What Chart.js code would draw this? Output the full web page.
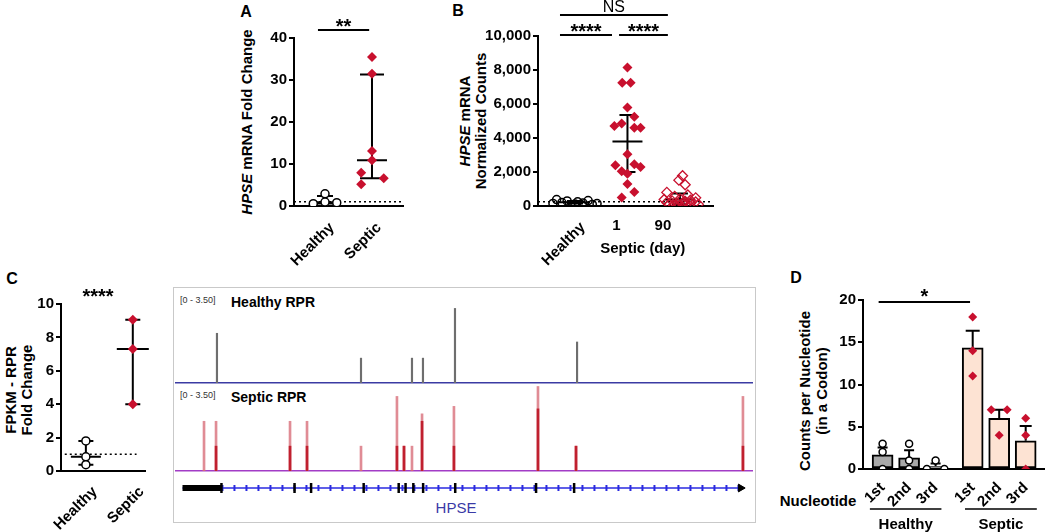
<!DOCTYPE html>
<html>
<head>
<meta charset="utf-8">
<title>HPSE expression</title>
<script src="https://cdn.jsdelivr.net/npm/chart.js@4.4.1/dist/chart.umd.min.js"></script>
<style>
  html, body { margin: 0; padding: 0; background: #fff; }
  body { position: relative; width: 1050px; height: 532px; overflow: hidden;
         font-family: 'Liberation Sans', Arial, sans-serif; color: #000; }
  canvas { position: absolute; }
  .lbl { position: absolute; white-space: nowrap; font-weight: bold; transform: translate(-50%, -50%); }
  .panel { font-size: 16px; }
  .ytitle { font-size: 15px; line-height: 16px; text-align: center;
            transform: translate(-50%, -50%) rotate(-90deg); }
  .box { position: absolute; left: 173px; top: 287px; width: 583px; height: 236px;
         box-sizing: border-box; border: 1.5px solid #c9c9c9; }
  .range { position: absolute; font-size: 9px; color: #333; transform: translateY(-50%); white-space: nowrap; }
  .track { position: absolute; font-size: 14px; font-weight: bold; transform: translateY(-50%); white-space: nowrap; }
</style>
</head>
<body>
<div class="lbl panel" style="left:246px;top:12px">A</div>
<div class="lbl panel" style="left:458px;top:11px">B</div>
<div class="lbl panel" style="left:12px;top:279px">C</div>
<div class="lbl panel" style="left:796px;top:278px">D</div>

<div class="lbl ytitle" style="left:247px;top:122px"><i>HPSE</i> mRNA Fold Change</div>
<div class="lbl ytitle" style="left:473px;top:121px"><i>HPSE</i> mRNA<br>Normalized Counts</div>
<div class="lbl ytitle" style="left:19px;top:390px">FPKM - RPR<br>Fold Change</div>
<div class="lbl ytitle" style="left:813px;top:391px;line-height:17px">Counts per Nucleotide<br>(in a Codon)</div>

<div class="box"></div>
<div class="range" style="left:180px;top:300px">[0 - 3.50]</div>
<div class="track" style="left:231px;top:302px">Healthy RPR</div>
<div class="range" style="left:180px;top:395px">[0 - 3.50]</div>
<div class="track" style="left:231px;top:397px">Septic RPR</div>
<div class="lbl" style="left:456px;top:507px;font-weight:normal;font-size:15px;color:#3a3aa6">HPSE</div>
<div class="lbl" style="left:818px;top:500px;font-size:15px">Nucleotide</div>

<canvas id="cA" width="225" height="270" style="left:190px;top:0"></canvas>
<canvas id="cB" width="290" height="270" style="left:430px;top:0"></canvas>
<canvas id="cC" width="160" height="262" style="left:0;top:270px"></canvas>
<canvas id="cH" width="578" height="95" style="left:175px;top:290px"></canvas>
<canvas id="cS" width="578" height="95" style="left:175px;top:378px"></canvas>
<canvas id="cG" width="578" height="20" style="left:175px;top:478px"></canvas>
<canvas id="cD" width="260" height="262" style="left:790px;top:270px"></canvas>

<script>
// ---- Panel A: HPSE mRNA fold change ----
const catsA = ['Healthy', 'Septic'];
const healthyA = [0.55, 2.9, 0.95, 0.8];
const healthyAJit = [-0.25, 0, 0, 0.25];
const septicA = [35.5, 31.5, 13.1, 10.9, 7.9, 5.2, 6.6];
const septicAJit = [0, 0, 0, 0, -0.23, -0.23, 0.25];
const medA = [0.9, 10.9];
const loA = [0.6, 6.6];
const hiA = [2.4, 31.3];

// ---- Panel B: normalized counts ----
const catsB = ['Healthy', '1', '90'];
const healthyB = [380, 300, 250, 320, 150, 200, 120, 180, 90, 140];
const healthyBJit = [-0.35, -0.15, 0.05, 0.25, -0.42, -0.25, 0, 0.15, 0.33, 0.42];
const day1B = [8150, 7250, 7250, 5800, 5250, 4850, 4700, 4600, 4600, 3050, 2400, 2450, 2300, 2050, 1900, 1300, 820, 500];
const day1BJit = [0, -0.1, 0.06, 0, 0.13, -0.11, -0.25, 0.25, 0.13, 0, -0.23, 0.13, 0.25, -0.11, 0, 0, 0.13, -0.11];
const day90B = [1780, 1520, 1250, 800, 650, 560, 480, 420, 380, 340, 300, 270, 240, 210, 180, 160, 140, 120, 100, 80, 60, 40];
const day90BJit = [0.05, -0.02, 0.1, -0.25, 0.15, -0.1, 0.3, 0, -0.3, 0.2, -0.15, 0.1, 0.3, -0.25, 0.05, -0.05, 0.2, -0.2, 0.35, 0.12, -0.12, 0];
const medB = [220, 3800, 380];
const loB = [140, 2000, 100];
const hiB = [300, 5350, 730];

// ---- Panel C: FPKM fold change + coverage tracks ----
const catsC = ['Healthy', 'Septic'];
const healthyC = [1.8, 0.85, 0.38];
const septicC = [9.05, 7.3, 4.0];
const medC = [0.85, 7.3];
const loC = [0.38, 4.0];
const hiC = [1.8, 9.05];

// positions in kb along the HPSE locus
const healthyPos = [3.63, 16.09, 20.5, 21.45, 24.22, 34.78];
const healthyCov = [2.0, 1.0, 1.0, 1.0, 3.0, 1.65];
const septicPos = [2.51, 3.55, 9.95, 11.42, 16.09, 19.2, 19.81, 20.5, 21.37, 24.13, 31.4, 34.69, 49.13];
const septicCov = [2.0, 2.0, 2.0, 2.0, 1.0, 3.0, 1.0, 1.0, 2.3, 2.6, 3.4, 1.0, 3.0];
const septicCovDark = [0, 1.0, 1.0, 1.0, 0, 1.0, 1.0, 0, 2.0, 1.0, 2.5, 1.0, 1.0];
const exonPos = [3.46, 9.95, 11.42, 16.09, 19.2, 19.81, 20.5, 21.37, 24.22, 31.4, 34.78];
const geneStart = 0;
const geneEnd = 49.57;

// ---- Panel D: counts per nucleotide ----
const nucLabels = ['1st', '2nd', '3rd', '1st', '2nd', '3rd'];
const groupsD = ['Healthy', 'Septic'];
const meanD = [1.67, 1.33, 0.33, 14.33, 6.0, 3.33];
const semD = [0.88, 0.88, 0.33, 2.03, 1.0, 1.76];
const healthyPtsD = [3, 2, 0, 3, 1, 0, 1, 0, 0];
const healthyGrpD = [0, 0, 0, 1, 1, 1, 2, 2, 2];
const healthyJitD = [0, 0, 0, 0, 0, 0, 0, -0.33, 0.33];
const septicPtsD = [18, 14, 11, 7, 7, 4, 6, 4, 0];
const septicGrpD = [3, 3, 3, 4, 4, 4, 5, 5, 5];
const septicJitD = [0, 0, 0, -0.3, 0.3, 0, 0, 0, 0];

const xD = [1, 2, 3, 4.4, 5.4, 6.4];

const FONT = "'Liberation Sans', Arial, sans-serif";
const RED = '#c8102e';
Chart.defaults.font.family = FONT;
Chart.defaults.font.size = 15;
Chart.defaults.font.weight = 'bold';
Chart.defaults.color = '#000';
Chart.defaults.animation = false;
Chart.defaults.plugins.legend.display = false;
Chart.defaults.plugins.tooltip.enabled = false;

function pts(vals, jit, xc) {
  return vals.map((v, i) => ({ x: xc + jit[i], y: v }));
}

function yAxis(min, max, step, width, fmt) {
  const ticks = { stepSize: step, padding: 2, color: '#000', font: { size: 15, weight: 'bold' } };
  if (fmt) ticks.callback = fmt;
  return {
    min, max, ticks,
    grid: { display: true, drawOnChartArea: false, drawTicks: true, tickLength: 5, color: '#000', lineWidth: 2 },
    border: { color: '#000', width: 2 },
    afterFit: s => { s.width = width; }
  };
}

function xAxis(min, max, positions, labels, height, shift, pad) {
  return {
    type: 'linear', min, max, offset: false,
    afterBuildTicks: s => { s.ticks = positions.map(v => ({ value: v })); },
    ticks: {
      display: !!labels, autoSkip: false, minRotation: 45, maxRotation: 45,
      padding: pad || 2, labelOffset: shift || 0,
      color: '#000', font: { size: 15, weight: 'bold' },
      callback: (v, i) => labels ? labels[i] : ''
    },
    grid: { display: false, offset: false },
    border: { color: '#000', width: 2 },
    afterFit: s => { s.height = height; }
  };
}

// median / mean with range bars
function whiskers(xs, mid, lo, hi, half, cap, upOnly) {
  return {
    id: 'whiskers',
    beforeDatasetsDraw(chart) {
      const { ctx, scales: { x, y } } = chart;
      ctx.save();
      ctx.strokeStyle = '#000';
      ctx.lineWidth = 2;
      xs.forEach((xv, i) => {
        const px = x.getPixelForValue(xv);
        const t = y.getPixelForValue(hi[i]);
        const b = y.getPixelForValue(lo[i]);
        const m = y.getPixelForValue(mid[i]);
        ctx.beginPath();
        ctx.moveTo(px, t); ctx.lineTo(px, b);
        ctx.moveTo(px - cap[i], t); ctx.lineTo(px + cap[i], t);
        if (!upOnly) {
          ctx.moveTo(px - cap[i], b); ctx.lineTo(px + cap[i], b);
          ctx.moveTo(px - half[i], m); ctx.lineTo(px + half[i], m);
        }
        ctx.stroke();
      });
      ctx.restore();
    }
  };
}

function refLine(yv, x0, x1) {
  return {
    id: 'refLine',
    beforeDatasetsDraw(chart) {
      const { ctx, chartArea, scales: { x, y } } = chart;
      const py = y.getPixelForValue(yv);
      const a = x0 == null ? chartArea.left : x.getPixelForValue(x0);
      const b = x1 == null ? chartArea.right : x.getPixelForValue(x1);
      ctx.save();
      ctx.setLineDash([2, 3]);
      ctx.lineWidth = 1.5;
      ctx.strokeStyle = '#000';
      ctx.beginPath(); ctx.moveTo(a, py); ctx.lineTo(b, py); ctx.stroke();
      ctx.restore();
    }
  };
}

function sig(items) {
  return {
    id: 'sig',
    afterDraw(chart) {
      const { ctx, chartArea, scales: { x } } = chart;
      ctx.save();
      ctx.strokeStyle = '#000';
      ctx.fillStyle = '#000';
      items.forEach(it => {
        const a = x.getPixelForValue(it.from);
        const b = x.getPixelForValue(it.to);
        if (it.line != null) {
          const ly = chartArea.top + it.line;
          ctx.lineWidth = 2;
          ctx.beginPath(); ctx.moveTo(a, ly); ctx.lineTo(b, ly); ctx.stroke();
        }
        ctx.font = it.font;
        ctx.textAlign = 'center';
        ctx.textBaseline = 'alphabetic';
        ctx.fillText(it.text, (a + b) / 2, chartArea.top + it.base);
      });
      ctx.restore();
    }
  };
}

const stars = 'bold 20px ' + FONT;

// ---------- A ----------
new Chart(document.getElementById('cA'), {
  type: 'scatter',
  data: {
    datasets: [
      { data: pts(healthyA, healthyAJit, 1), pointStyle: 'circle', pointRadius: 4, backgroundColor: '#fff', borderColor: '#000', borderWidth: 1.5 },
      { data: pts(septicA, septicAJit, 2), pointStyle: 'rectRot', pointRadius: 5, backgroundColor: RED, borderColor: RED, borderWidth: 0 }
    ]
  },
  options: {
    responsive: false,
    layout: { padding: { top: 38, right: 12, left: 0, bottom: 0 } },
    scales: {
      x: xAxis(0.34, 2.66, [1, 2], catsA, 64, 7, 5),
      y: yAxis(0, 40, 10, 104)
    }
  },
  plugins: [
    refLine(1),
    whiskers([1, 2], medA, loA, hiA, [12, 15], [8, 12]),
    sig([{ from: 0.85, to: 1.94, line: -8, base: -5, text: '**', font: stars }])
  ]
});

// ---------- B ----------
const labelsB = {
  id: 'labelsB',
  afterDraw(chart) {
    const { ctx, chartArea, scales: { x } } = chart;
    const by = chartArea.bottom;
    ctx.save();
    ctx.fillStyle = '#000';
    ctx.font = 'bold 15px ' + FONT;
    ctx.save();
    ctx.translate(x.getPixelForValue(1) + 8, by + 19);
    ctx.rotate(-Math.PI / 4);
    ctx.textAlign = 'right';
    ctx.textBaseline = 'middle';
    ctx.fillText(catsB[0], 0, 0);
    ctx.restore();
    ctx.textAlign = 'center';
    ctx.textBaseline = 'middle';
    const p1 = x.getPixelForValue(2) - 11;
    const p2 = x.getPixelForValue(3) - 17;
    ctx.fillText(catsB[1], p1, by + 20);
    ctx.fillText(catsB[2], p2, by + 20);
    ctx.fillText('Septic (day)', (p1 + p2) / 2 + 3, by + 43);
    ctx.restore();
  }
};

new Chart(document.getElementById('cB'), {
  type: 'scatter',
  data: {
    datasets: [
      { data: pts(healthyB, healthyBJit, 1), pointStyle: 'circle', pointRadius: 4, backgroundColor: 'rgba(255,255,255,0)', borderColor: '#000', borderWidth: 1.5 },
      { data: pts(day1B, day1BJit, 2), pointStyle: 'rectRot', pointRadius: 5, backgroundColor: RED, borderColor: RED, borderWidth: 0 },
      { data: pts(day90B, day90BJit, 3), pointStyle: 'rectRot', pointRadius: 5, backgroundColor: 'rgba(255,255,255,0)', borderColor: RED, borderWidth: 1.3 }
    ]
  },
  options: {
    responsive: false,
    layout: { padding: { top: 36, right: 7, left: 0, bottom: 0 } },
    scales: {
      x: xAxis(0.295, 3.63, [1, 2, 3], null, 64),
      y: yAxis(0, 10000, 2000, 108, v => v.toLocaleString('en-US'))
    }
  },
  plugins: [
    refLine(250),
    whiskers([1, 2, 3], medB, loB, hiB, [15, 15, 15], [8, 8, 8]),
    sig([
      { from: 0.714, to: 2.77, line: -21, base: -24, text: 'NS', font: '16px ' + FONT },
      { from: 0.714, to: 1.705, line: -1, base: 2, text: '****', font: stars },
      { from: 1.84, to: 2.77, line: -1, base: 2, text: '****', font: stars }
    ]),
    labelsB
  ]
});

// ---------- C (left scatter) ----------
new Chart(document.getElementById('cC'), {
  type: 'scatter',
  data: {
    datasets: [
      { data: healthyC.map(v => ({ x: 1, y: v })), pointStyle: 'circle', pointRadius: 4, backgroundColor: '#fff', borderColor: '#000', borderWidth: 1.5 },
      { data: septicC.map(v => ({ x: 2, y: v })), pointStyle: 'rectRot', pointRadius: 5, backgroundColor: RED, borderColor: RED, borderWidth: 0 }
    ]
  },
  options: {
    responsive: false,
    layout: { padding: { top: 34, right: 15, left: 0, bottom: 0 } },
    scales: {
      x: xAxis(0.47, 2.26, [1, 2], catsC, 61, 9, 4),
      y: yAxis(0, 10, 2, 61)
    }
  },
  plugins: [
    refLine(1, 0.55, 2.08),
    whiskers([1, 2], medC, loC, hiC, [15, 16], [7.5, 7.5]),
    sig([{ from: 1.26, to: 1.26, base: -1, text: '****', font: stars }])
  ]
});

// ---------- C coverage tracks ----------
function trackChart(id, datasets, baseColor) {
  return new Chart(document.getElementById(id), {
    type: 'bar',
    data: { datasets },
    options: {
      responsive: false,
      layout: { padding: { top: 6, left: 0, right: 0, bottom: 0 } },
      scales: {
        x: {
          type: 'linear', min: geneStart, max: 50, offset: false,
          ticks: { display: false }, grid: { display: false, offset: false },
          border: { color: baseColor, width: 1.5 },
          afterFit: s => { s.height = 2; }
        },
        y: { min: 0, max: 3.5, display: false }
      }
    }
  });
}

trackChart('cH', [
  { data: healthyPos.map((p, i) => ({ x: p, y: healthyCov[i] })), backgroundColor: '#6e6e6e', barThickness: 1.5, grouped: false, borderWidth: 0 }
], '#3b3ba3');

trackChart('cS', [
  { data: septicPos.map((p, i) => ({ x: p, y: septicCovDark[i] })), backgroundColor: '#c0202f', barThickness: 2, grouped: false, borderWidth: 0, order: 0 },
  { data: septicPos.map((p, i) => ({ x: p, y: septicCov[i] })), backgroundColor: '#e08c95', barThickness: 2, grouped: false, borderWidth: 0, order: 1 }
], '#a23cc6');

// gene model
new Chart(document.getElementById('cG'), {
  type: 'scatter',
  data: {
    datasets: [
      { data: exonPos.map(p => ({ x: p, y: 0.5 })), pointStyle: 'line', rotation: 90, pointRadius: 5, borderColor: '#000', borderWidth: 2.5, clip: false, order: 0 },
      { data: [{ x: geneEnd, y: 0.5 }], pointStyle: 'triangle', rotation: 90, pointRadius: 4.5, backgroundColor: '#000', borderColor: '#000', borderWidth: 1, clip: false, order: 0 },
      { data: [{ x: geneStart, y: 0.5 }, { x: exonPos[0], y: 0.5 }], showLine: true, borderColor: '#000', borderWidth: 6, pointRadius: 0, clip: false, order: 1 },
      { data: [{ x: exonPos[0], y: 0.5 }, { x: geneEnd, y: 0.5 }], showLine: true, borderColor: '#2a2ae0', borderWidth: 6, borderDash: [2, 10], pointRadius: 0, clip: false, order: 2 },
      { data: [{ x: geneStart, y: 0.5 }, { x: geneEnd, y: 0.5 }], showLine: true, borderColor: '#2a2ae0', borderWidth: 1.5, pointRadius: 0, clip: false, order: 3 }
    ]
  },
  options: {
    responsive: false,
    layout: { padding: 0 },
    scales: {
      x: { type: 'linear', min: geneStart, max: 50, display: false },
      y: { min: 0, max: 1, display: false }
    }
  }
});

// ---------- D ----------
const groupLines = {
  id: 'groupLines',
  afterDraw(chart) {
    const { ctx, chartArea, scales: { x } } = chart;
    const spans = [[0.52, 3.22], [4.11, 6.82]];
    ctx.save();
    ctx.strokeStyle = '#000';
    ctx.fillStyle = '#000';
    ctx.lineWidth = 1.5;
    ctx.font = 'bold 15px ' + FONT;
    ctx.textAlign = 'center';
    ctx.textBaseline = 'middle';
    spans.forEach((sp, i) => {
      const a = x.getPixelForValue(sp[0]);
      const b = x.getPixelForValue(sp[1]);
      const ly = chartArea.bottom + 40;
      ctx.beginPath(); ctx.moveTo(a, ly); ctx.lineTo(b, ly); ctx.stroke();
      ctx.fillText(groupsD[i], (a + b) / 2, chartArea.bottom + 56);
    });
    ctx.restore();
  }
};

new Chart(document.getElementById('cD'), {
  type: 'bar',
  data: {
    datasets: [
      { type: 'scatter', data: healthyPtsD.map((v, i) => ({ x: xD[healthyGrpD[i]] + healthyJitD[i], y: v })), pointStyle: 'circle', pointRadius: 3.5, backgroundColor: '#fff', borderColor: '#000', borderWidth: 1.5, order: 0 },
      { type: 'scatter', data: septicPtsD.map((v, i) => ({ x: xD[septicGrpD[i]] + septicJitD[i], y: v })), pointStyle: 'rectRot', pointRadius: 4.5, backgroundColor: RED, borderColor: RED, borderWidth: 0, order: 0 },
      { type: 'bar', data: xD.map((p, i) => ({ x: p, y: meanD[i] })), backgroundColor: xD.map((_, i) => i < 3 ? '#a9a9a9' : '#fde3d3'), borderColor: '#000', borderWidth: 2, borderSkipped: false, barThickness: 21, grouped: false, order: 1 }
    ]
  },
  options: {
    responsive: false,
    layout: { padding: { top: 30, right: 2, left: 0, bottom: 0 } },
    scales: {
      x: xAxis(0.26, 7.11, xD, nucLabels, 63),
      y: yAxis(0, 20, 5, 73)
    }
  },
  plugins: [
    whiskers(xD, meanD, meanD, meanD.map((m, i) => m + semD[i]), [0, 0, 0, 0, 0, 0], [5, 5, 5, 7, 6, 6], true),
    sig([{ from: 0.85, to: 4.3, line: 2, base: 3, text: '*', font: stars }]),
    groupLines
  ]
});
</script>
</body>
</html>
